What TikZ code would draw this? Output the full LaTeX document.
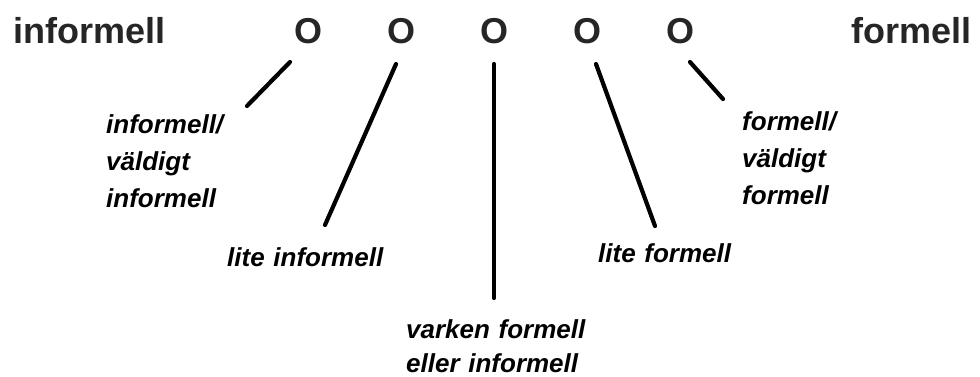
\documentclass[tikz,border=0pt]{standalone}
\usepackage{fontspec}
\setmainfont{Liberation Sans}
\begin{document}
\begin{tikzpicture}[x=1pt,y=-1pt,
  title/.style={font=\fontsize{36}{40}\selectfont\bfseries, inner sep=0pt, text=black!85},
  lbl/.style={font=\fontsize{26}{37}\selectfont\bfseries\itshape, inner sep=0pt, align=left, anchor=base west},
  conn/.style={line width=4.2pt, line cap=round}]
\useasboundingbox (0,0) rectangle (980,376);
% top row
\node[title, anchor=base west] (inf) at (13,43) {informell};
\node[title, anchor=base east] (form) at (972,43) {formell};
\foreach \i/\x in {1/308,2/401,3/494,4/587,5/680}
  \node[title, anchor=base] (o\i) at (\x,43) {O};
% labels
\node[lbl, text width=140pt] (l1) at (106,133) {informell/\\väldigt\\informell};
\node[lbl, text width=180pt] (l2) at (227,266) {lite informell};
\node[lbl, text width=200pt] (l3) at (406,338) {varken formell\\[-3pt]eller informell};
\node[lbl, text width=160pt] (l4) at (598,262) {lite formell};
\node[lbl, text width=130pt] (l5) at (742,130) {formell/\\väldigt\\formell};
% connector end points
\coordinate (s1) at (290,62); \coordinate (e1) at (247,106);
\coordinate (s2) at (396,64); \coordinate (e2) at (325,225);
\coordinate (s3) at (494,64); \coordinate (e3) at (494,298);
\coordinate (s4) at (596,64); \coordinate (e4) at (655,226);
\coordinate (s5) at (690,62); \coordinate (e5) at (723,99);
\foreach \i in {1,...,5}
  \draw[conn] (s\i) -- (e\i);
\end{tikzpicture}
\end{document}
